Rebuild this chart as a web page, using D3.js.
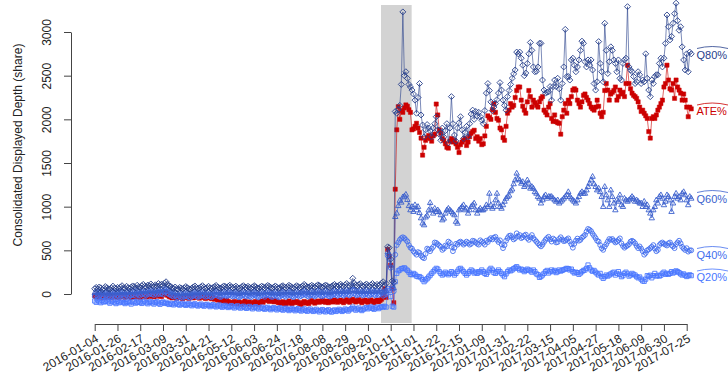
<!DOCTYPE html>
<html><head><meta charset="utf-8">
<script src="https://cdn.jsdelivr.net/npm/d3@7"></script>
<style>body{margin:0;background:#fff;} svg{display:block;font-family:"Liberation Sans",Arial,sans-serif;}</style>
</head><body><svg id="chart" width="728" height="385"></svg>
<script>
const tickLabels = ["2016-01-04","2016-01-26","2016-02-17","2016-03-09","2016-03-31","2016-04-21","2016-05-12","2016-06-03","2016-06-24","2016-07-18","2016-08-08","2016-08-29","2016-09-20","2016-10-11","2016-11-01","2016-11-22","2016-12-15","2017-01-09","2017-01-31","2017-02-22","2017-03-15","2017-04-05","2017-04-27","2017-05-18","2017-06-09","2017-06-30","2017-07-25"];
const tickStep = 15;
const yTicks = [0,500,1000,1500,2000,2500,3000];
const shade = [188.6, 208.8];

const q80 = [60,75,55,80,70,50,65,85,72,60,55,70,90,68,58,75,62,80,95,70,65,88,72,60,78,92,85,70,100,82,75,95,110,88,80,102,92,115,98,85,105,90,120,100,112,95,125,140,110,95,88,72,65,80,60,55,75,68,58,70,85,72,60,55,68,80,92,75,62,70,82,95,78,65,72,88,70,60,75,85,98,80,70,65,78,92,85,72,88,100,82,70,78,90,75,62,70,85,95,80,72,88,76,65,80,95,84,70,62,78,90,82,70,85,98,88,75,68,80,92,78,65,72,88,95,80,70,85,100,90,76,68,82,95,85,72,80,92,110,95,82,75,90,100,88,78,92,105,96,85,78,90,102,95,82,75,88,98,110,92,85,100,112,95,88,105,120,98,90,110,180,125,100,92,108,118,95,88,102,115,98,90,105,120,100,92,110,95,105,125,140,100,120,540,530,400,150,130,
2090,2070,2110,2160,2400,3230,2500,2545,2470,2400,2370,2335,2290,2220,2070,2250,2410,2050,1935,1800,1880,1940,1900,1870,1800,1900,1950,2030,1880,1830,1760,1900,1800,1870,1950,1730,1900,2260,1950,1820,1750,1900,1960,2030,1880,1780,1850,1920,1800,1950,2060,2105,2000,2090,2040,2080,2030,1990,1950,2100,2300,2410,2330,2200,2100,2140,2180,2225,2300,
2420,2335,2220,2160,2105,2260,2330,2400,2470,2520,2565,2770,2750,2770,2700,2620,2500,2530,2640,2750,2880,2790,2600,2545,2550,2600,2870,2870,2450,2335,2300,2310,2315,2375,2220,2375,2450,2375,2470,2350,2220,2410,2600,3030,
2490,2490,2450,2680,2700,2620,2545,2600,2680,2790,2895,2870,2660,2600,2680,2620,2680,2565,2410,
2335,2430,2890,2640,2545,2430,3100,2790,2525,2660,2830,2790,2680,2640,2545,2680,2470,2450,2640,2680,2700,3290,2600,2565,2545,2490,2410,2430,2545,2510,2410,2450,2430,2750,2470,2335,2260,2450,2410,2490,2510,2510,2640,2700,2600,2700,2870,3195,3060,2910,2950,3100,3210,3330,3130,3020,3060,2830,2680,2565,2750,2545,2770,2750];

const ate = [-20,-35,-10,-25,-40,-15,-30,-45,-20,-10,-30,-45,-25,-15,-35,-20,-40,-28,-12,-30,-38,-22,-10,-30,-42,-18,-25,-35,-15,-28,-40,-20,-5,-25,-35,-15,-28,-8,-20,-32,-12,-25,-5,-18,-30,-10,-2,15,-15,-28,-35,-45,-30,-40,-50,-38,-28,-42,-55,-35,-25,-40,-50,-35,-28,-45,-30,-20,-38,-48,-30,-22,-40,-52,-35,-25,-45,-55,-40,-60,-50,-70,-62,-80,-65,-75,-90,-70,-85,-100,-95,-110,-85,-100,-115,-90,-105,-120,-95,-80,-100,-115,-90,-108,-120,-95,-85,-105,-118,-92,-80,-95,-70,-60,-75,-85,-65,-78,-90,-72,-85,-100,-95,-110,-88,-100,-115,-95,-80,-105,-110,-90,-100,-85,-95,-110,-120,-98,-85,-105,-95,-110,-88,-75,-92,-105,-90,-80,-95,-85,-70,-88,-95,-80,-100,-85,-75,-92,-68,-80,-95,-80,-70,-88,-100,-78,-65,-85,-95,-72,-60,-80,-92,-75,-65,-85,-100,-78,-70,-88,-95,-75,-68,-85,-100,-80,-70,-90,-75,-60,-20,60,-40,510,430,330,60,-100,
1200,1880,2145,2000,2100,2080,
2130,2165,2150,2110,2080,1880,1890,1920,1955,1900,1850,1785,1590,1680,1760,1790,1815,1780,1750,1810,1830,2175,2050,1880,1840,1780,1760,1720,1680,1670,1750,1780,1740,1760,1720,1680,1620,1710,1740,1760,1780,1700,1740,1800,1840,1860,1875,1780,1800,1750,1780,1710,1720,1810,1920,2040,2020,2000,2110,2180,2080,2010,1990,
1900,1880,1790,1760,1920,2070,2105,2180,2140,2160,2250,2330,2370,2370,2220,2150,2105,2070,2200,2330,2260,2140,2220,2190,2160,2140,2200,2240,2260,2105,2080,2050,2140,2180,2010,1975,2050,1975,1960,1955,1830,2030,2105,2180,2070,2220,2180,2260,2335,2350,2335,2220,2180,2140,2200,2275,2290,2250,2220,2180,2140,2120,2105,
2140,2220,2150,2070,2030,2080,2330,2410,2335,2220,2290,2310,2330,2370,2220,2260,2335,2290,2310,2260,2410,2620,2410,2350,2300,2275,2260,2240,2200,2140,2090,2105,2070,2040,2010,1860,1785,2010,2030,2010,2050,2105,2140,2180,2220,2370,2410,2620,2450,2350,2335,2410,2240,2450,2370,2335,2300,2220,2290,2220,2140,2030,2140,2120];

const q60 = [15,25,10,20,30,18,8,22,28,12,5,18,30,22,10,25,15,28,35,20,12,30,22,15,28,38,30,20,42,32,25,40,50,35,28,45,38,55,42,30,48,35,60,45,52,40,65,75,55,40,30,20,12,25,8,0,18,10,2,15,25,15,5,0,12,22,30,18,8,15,25,35,20,10,18,30,15,5,20,28,38,22,12,8,20,32,25,15,28,38,22,12,20,30,18,5,12,25,35,20,12,28,18,8,22,35,25,12,5,20,30,22,10,25,38,28,15,8,20,32,18,5,12,28,35,20,10,25,38,28,15,8,22,35,25,12,20,30,45,32,20,12,28,38,25,15,30,42,35,22,15,28,40,32,20,12,25,35,45,30,22,35,48,32,25,40,55,35,28,45,90,50,35,28,42,52,32,25,38,48,32,25,40,55,35,28,45,30,40,60,20,30,40,480,460,330,100,70,
885,925,1010,1070,1050,1110,1120,
1140,1080,1010,962,1000,943,1020,962,1000,930,870,810,790,880,900,960,1045,962,924,980,943,962,940,905,847,866,924,962,980,962,943,924,905,830,809,962,980,1000,1020,962,980,924,962,1000,1020,1040,962,924,962,980,962,962,980,1020,1000,1152,1020,980,1000,1076,1152,1040,1000,980,1020,1060,1095,1115,1130,1180,1200,1260,1305,1382,1320,1305,1267,1286,1229,1248,1305,1267,1210,1229,1210,1170,1152,1115,1095,1040,1076,1115,1134,1095,1115,1115,
1115,1095,1076,1060,1076,1040,1060,1076,1095,1115,1134,1170,1115,1095,1076,1060,1040,1076,1115,1152,1170,1152,1152,1190,1229,1267,1305,1345,1260,1229,1190,1210,1170,1115,1000,1229,1134,1076,1000,1190,1115,1040,962,1076,1060,1134,1020,1000,1095,1076,1060,1076,1095,1115,1095,1060,1076,1060,1040,1040,1000,1060,1000,1020,962,924,870,962,1000,1076,1040,1115,1134,1095,1020,1060,1134,1115,1076,943,1040,1115,1152,1095,1115,1076,1152,1170,1134,1076,1020,1115,1095];

const q40 = [-25,-15,-30,-20,-10,-28,-35,-18,-12,-30,-38,-22,-12,-20,-32,-18,-28,-15,-8,-22,-30,-12,-20,-28,-15,-5,-12,-22,0,-10,-18,-2,8,-8,-15,2,-5,10,-2,-12,5,-8,15,0,8,-5,18,28,10,-5,-12,-22,-30,-18,-35,-42,-25,-32,-40,-28,-18,-28,-38,-42,-30,-20,-12,-25,-35,-28,-18,-8,-22,-32,-25,-12,-28,-38,-22,-15,-5,-20,-30,-35,-22,-10,-18,-28,-15,-5,-20,-30,-22,-12,-25,-38,-30,-18,-8,-22,-30,-15,-25,-35,-20,-8,-18,-30,-38,-22,-12,-20,-32,-18,-5,-15,-28,-35,-22,-10,-25,-38,-30,-15,-8,-22,-32,-18,-5,-15,-28,-35,-20,-8,-18,-30,-22,-12,2,-10,-22,-30,-15,-5,-18,-28,-12,0,-8,-20,-28,-15,-2,-10,-22,-30,-18,-8,2,-12,-20,-8,5,-10,-18,-2,12,-8,-15,2,45,5,-8,-15,0,10,-10,-18,-5,5,-10,-18,-2,12,-8,-15,2,-12,-2,15,-20,-10,0,440,400,300,60,30,
450,560,590,620,640,650,640,
620,601,560,530,520,490,470,450,480,470,440,420,410,460,520,510,490,520,540,590,585,570,555,540,505,520,555,545,600,585,540,490,530,575,565,590,600,585,565,580,600,585,565,575,610,605,590,575,565,615,600,585,565,610,595,625,640,625,645,655,620,595,615,570,525,560,610,640,665,670,650,625,640,695,660,675,640,650,670,680,640,620,650,675,640,620,600,580,560,545,565,595,620,640,655,625,
600,635,620,590,595,630,650,625,605,610,625,637,600,570,530,575,610,635,610,620,645,660,676,714,745,735,720,690,665,640,610,600,560,523,505,542,570,600,630,620,630,610,590,600,618,637,580,550,530,545,555,570,600,610,599,580,550,525,545,520,490,450,470,500,510,525,540,560,520,490,505,560,580,590,575,565,555,580,590,560,545,525,570,590,610,580,540,520,504,525,485,500,500];

const q20 = [-80,-95,-70,-88,-100,-75,-92,-85,-70,-90,-105,-88,-78,-95,-110,-85,-100,-92,-80,-98,-110,-95,-85,-100,-115,-92,-88,-105,-96,-82,-95,-108,-90,-80,-100,-112,-95,-85,-102,-115,-98,-88,-105,-118,-100,-92,-108,-95,-110,-120,-105,-115,-125,-110,-100,-118,-128,-115,-105,-120,-130,-118,-108,-125,-135,-120,-112,-128,-138,-125,-115,-130,-140,-125,-118,-132,-145,-130,-122,-138,-148,-135,-125,-140,-152,-138,-130,-145,-155,-142,-132,-148,-160,-145,-135,-150,-162,-148,-140,-155,-165,-150,-142,-158,-170,-155,-145,-160,-172,-158,-150,-165,-175,-160,-152,-168,-180,-165,-155,-170,-182,-168,-158,-175,-185,-170,-162,-178,-190,-175,-165,-180,-192,-178,-168,-185,-195,-180,-170,-188,-198,-182,-172,-190,-200,-185,-175,-192,-205,-188,-178,-195,-205,-190,-180,-198,-208,-192,-182,-200,-190,-175,-185,-200,-188,-172,-182,-195,-180,-168,-150,-170,-185,-172,-160,-178,-190,-175,-162,-155,-170,-158,-148,-165,-175,-160,-150,-168,-155,-145,-150,-140,-150,60,40,-30,-140,-150,
140,237,265,275,290,294,300,
285,270,250,225,220,236,225,205,198,200,185,165,141,160,175,195,215,236,255,275,294,285,256,236,217,230,250,236,220,236,256,240,217,236,260,285,294,275,256,236,217,236,256,275,262,240,250,236,256,250,275,256,236,225,250,275,294,275,245,236,256,275,256,236,217,198,230,256,275,265,275,290,300,313,294,275,285,275,256,270,285,275,265,250,275,256,230,220,190,200,217,236,256,270,240,256,
275,256,270,245,256,275,262,270,280,285,294,290,275,285,256,240,250,245,225,240,256,270,275,294,332,300,275,260,270,250,230,217,236,198,179,198,217,205,217,230,240,250,217,236,256,225,198,210,236,250,230,205,217,236,225,217,198,185,195,170,150,145,170,210,200,215,185,210,236,205,215,205,215,236,250,225,236,225,236,256,240,250,265,256,245,230,217,230,215,200,210,220,210];

const series = [
  {name:"ATE%", values:ate, color:"#CC0000", shape:"fsquare", labelY:115},
  {name:"Q20%", values:q20, color:"#4876FF", shape:"square", labelY:281},
  {name:"Q40%", values:q40, color:"#436EEE", shape:"circle", labelY:258.5},
  {name:"Q60%", values:q60, color:"#3A5FCD", shape:"triangle", labelY:202.5},
  {name:"Q80%", values:q80, color:"#27408B", shape:"diamond", labelY:58.5}
];

const svg = d3.select("#chart");
const x = d3.scaleLinear().domain([0, (tickLabels.length-1)*tickStep]).range([94.7, 686.7]);
const y = d3.scaleLinear().domain([0, 3000]).range([294, 32]);

// shaded band
svg.append("rect").attr("x", x(shade[0])).attr("width", x(shade[1]) - x(shade[0]))
  .attr("y", 5).attr("height", 318).attr("fill", "#d3d3d3");

function shapePath(s){
  switch(s){
    case "diamond": return "M0,-3L3,0L0,3L-3,0Z";
    case "triangle": return "M0,-3L2.7,1.8L-2.7,1.8Z";
    case "circle": return "M2.4,0A2.4,2.4 0 1,1 -2.4,0A2.4,2.4 0 1,1 2.4,0";
    default: return "M-2.1,-2.1h4.2v4.2h-4.2Z";
  }
}

const line = d3.line().x((d,i)=>x(i)).y(d=>y(d));
series.forEach(s=>{
  const g = svg.append("g");
  g.append("path").attr("d", line(s.values)).attr("fill","none")
    .attr("stroke", s.color).attr("stroke-width", 1).attr("stroke-opacity", 0.6);
  g.selectAll("path.m").data(s.values).join("path").attr("class","m")
    .attr("transform",(d,i)=>`translate(${x(i)},${y(d)})`)
    .attr("d", shapePath(s.shape))
    .attr("fill", s.shape==="fsquare" ? s.color : "none")
    .attr("stroke", s.color).attr("stroke-width", s.shape==="fsquare" ? 0.5 : 0.9);
  // right-side label
  svg.append("path").attr("d", `M697,${s.labelY-10}Q712,${s.labelY-14} 728,${s.labelY-10}`)
    .attr("fill","none").attr("stroke", s.color).attr("stroke-width", 0.8);
  svg.append("text").attr("x", 696.5).attr("y", s.labelY).attr("font-size", 11)
    .attr("fill", s.color).text(s.name);
});

// y axis
const yAxis = svg.append("g").attr("transform","translate(71,0)")
  .call(d3.axisLeft(y).tickValues(yTicks).tickFormat(d3.format("d")).tickSize(7).tickSizeOuter(0));
yAxis.selectAll("text").attr("x",0).attr("dy",0).attr("font-size",12).attr("fill","#222")
  .attr("text-anchor","middle").attr("transform","translate(-20,0) rotate(-90)");
yAxis.selectAll("line,path").attr("stroke","#444");
yAxis.attr("font-family", null);

// x axis
const xAxis = svg.append("g").attr("transform","translate(0,324)")
  .call(d3.axisBottom(x).tickValues(d3.range(0, tickLabels.length).map(i=>i*tickStep))
    .tickFormat((d,i)=>tickLabels[i]).tickSize(7).tickSizeOuter(0));
xAxis.selectAll("text").attr("y",0).attr("dy",0).attr("font-size",12).attr("fill","#222")
  .attr("text-anchor","end").attr("transform","translate(4,17) rotate(-30)");
xAxis.selectAll("line,path").attr("stroke","#444");
xAxis.attr("font-family", null);

// y title
svg.append("text").attr("transform","translate(22,145) rotate(-90)")
  .attr("text-anchor","middle").attr("font-size",12).attr("fill","#222")
  .text("Consolidated Displayed Depth (share)");
</script></body></html>
